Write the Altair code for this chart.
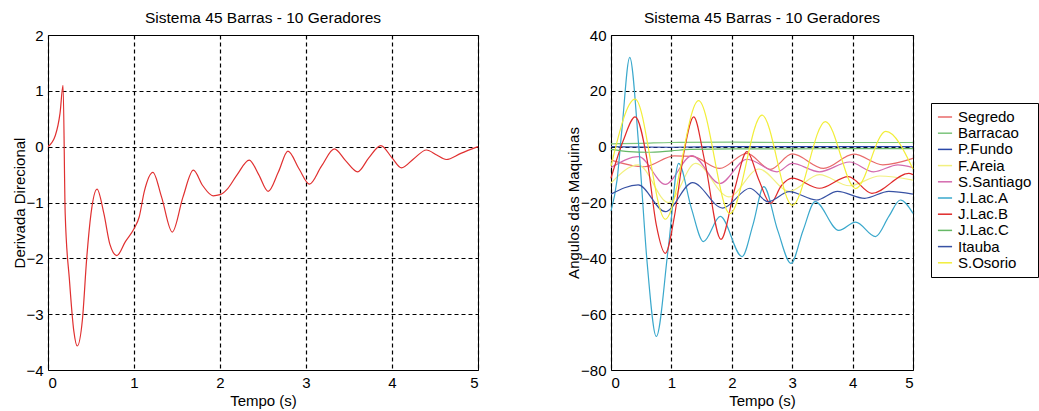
import altair as alt
import pandas as pd

# ---------------- Left panel: Derivada Direcional ----------------
DD_T = [0.0, 0.085, 0.14, 0.175, 0.2, 0.25, 0.3, 0.34, 0.4, 0.45, 0.5, 0.57, 0.65, 0.72, 0.8,
        0.9, 1.0, 1.06, 1.12, 1.22, 1.32, 1.445, 1.57, 1.69, 1.8, 1.92, 2.0, 2.09, 2.2, 2.34,
        2.45, 2.56, 2.68, 2.79, 2.92, 3.04, 3.18, 3.33, 3.46, 3.6, 3.73, 3.87, 4.0, 4.11, 4.25,
        4.4, 4.52, 4.63, 4.8, 5.0]
DD_V = [0.0, 0.2, 0.6, 1.1, -1.2, -2.4, -3.3, -3.57, -3.1, -2.0, -1.2, -0.76, -1.2, -1.75, -1.95,
        -1.7, -1.47, -1.26, -0.8, -0.46, -0.9, -1.53, -0.9, -0.42, -0.7, -0.88, -0.86, -0.75, -0.5, -0.24,
        -0.5, -0.8, -0.45, -0.08, -0.4, -0.67, -0.35, -0.04, -0.25, -0.45, -0.2, 0.02, -0.2, -0.38, -0.22,
        -0.06, -0.15, -0.23, -0.12, 0.0]

# ---------------- Right panel: Angulos das Maquinas ----------------
NAMES = ["Segredo", "Barracao", "P.Fundo", "F.Areia", "S.Santiago",
         "J.Lac.A", "J.Lac.B", "J.Lac.C", "Itauba", "S.Osorio"]
COLORS = ["#e86a6a", "#7cc47c", "#2a48a8", "#f2f080", "#d46aae",
          "#3aa8cc", "#e02a2a", "#66b866", "#3852a4", "#f2ee3a"]

SEGREDO_T = [0.0, 0.55, 1.05, 1.35, 1.8, 2.25, 2.64, 3.0, 3.52, 4.02, 4.5, 5.0]
SEGREDO_V = [-4.8, -7.2, -3.3, -3.5, -7.8, -2.4, -8.1, -2.6, -7.8, -2.7, -6.5, -4.2]

BARRACAO_T = [0.0, 0.5, 1.0, 2.0, 3.0, 4.0, 5.0]
BARRACAO_V = [1.0, 1.2, 1.5, 1.6, 1.5, 1.5, 1.5]

PFUNDO_T = [0.0, 1.0, 2.0, 3.0, 4.0, 5.0]
PFUNDO_V = [0.0, -0.2, 0.0, 0.0, 0.0, 0.0]

FAREIA_T = [0.0, 0.45, 0.95, 1.4, 1.95, 2.45, 2.95, 3.45, 3.95, 4.45, 5.0]
FAREIA_V = [-13.0, -6.5, -20.0, -6.0, -18.0, -8.0, -16.0, -10.0, -14.0, -10.5, -12.0]

SSANTIAGO_T = [0.0, 0.46, 0.9, 1.34, 1.8, 2.25, 2.75, 3.0, 3.45, 3.95, 4.35, 4.75, 5.0]
SSANTIAGO_V = [-7.5, -3.6, -13.5, -3.2, -13.2, -4.5, -9.0, -6.0, -9.0, -5.5, -9.0, -6.5, -7.5]

JLACA_T = [0.0, 0.1, 0.18, 0.31, 0.46, 0.6, 0.75, 0.95, 1.12, 1.33, 1.53, 1.81, 2.17, 2.35,
           2.53, 2.76, 2.98, 3.18, 3.38, 3.77, 4.05, 4.38, 4.6, 4.79, 5.0]
JLACA_V = [-23.0, -12.0, 6.0, 32.0, 0.0, -42.0, -68.0, -36.0, -6.0, -22.0, -34.0, -25.0, -39.4, -28.0,
           -14.3, -30.0, -41.8, -30.0, -19.7, -30.0, -27.0, -32.2, -25.0, -19.1, -23.9]

JLACB_T = [0.0, 0.2, 0.4, 0.6, 0.75, 0.9, 1.05, 1.2, 1.37, 1.55, 1.82, 2.05, 2.25, 2.45, 2.64,
           2.82, 3.0, 3.45, 3.93, 4.32, 4.93, 5.0]
JLACB_V = [-11.3, 2.0, 10.7, -5.0, -28.0, -38.2, -25.0, -3.0, 10.7, -5.0, -33.2, -15.0, -1.8, -12.0, -20.3,
           -14.0, -11.3, -14.9, -10.7, -16.7, -9.6, -10.0]

JLACC_T = [0.0, 0.3, 0.6, 1.0, 1.3, 2.0, 3.0, 4.0, 5.0]
JLACC_V = [-1.0, -1.8, -2.0, -1.5, -1.0, -0.8, -0.8, -0.7, -0.7]

ITAUBA_T = [0.0, 0.45, 0.9, 1.35, 1.85, 2.3, 2.6, 2.95, 3.4, 3.75, 4.2, 4.6, 5.0]
ITAUBA_V = [-17.0, -13.7, -23.3, -12.9, -22.0, -14.9, -19.7, -16.1, -19.1, -16.0, -18.5, -16.0, -17.0]

SOSORIO_T = [0.0, 0.4, 0.9, 1.45, 1.97, 2.5, 3.0, 3.55, 4.05, 4.55, 5.0]
SOSORIO_V = [-7.0, 17.0, -26.0, 16.5, -24.0, 11.3, -21.0, 9.0, -15.0, 5.5, -8.0]

SERIES_T = [SEGREDO_T, BARRACAO_T, PFUNDO_T, FAREIA_T, SSANTIAGO_T,
            JLACA_T, JLACB_T, JLACC_T, ITAUBA_T, SOSORIO_T]
SERIES_V = [SEGREDO_V, BARRACAO_V, PFUNDO_V, FAREIA_V, SSANTIAGO_V,
            JLACA_V, JLACB_V, JLACC_V, ITAUBA_V, SOSORIO_V]

X_TICKS = [0, 1, 2, 3, 4, 5]
Y_TICKS_L = [-4, -3, -2, -1, 0, 1, 2]
Y_TICKS_R = [-80, -60, -40, -20, 0, 20, 40]

TITLE = "Sistema 45 Barras - 10 Geradores"

df_left = pd.DataFrame({"t": DD_T, "v": DD_V})
rows = []
for name, ts, vs in zip(NAMES, SERIES_T, SERIES_V):
    for t, v in zip(ts, vs):
        rows.append({"serie": name, "t": t, "v": v})
df_right = pd.DataFrame(rows)

FONT = "Liberation Sans"

left = alt.Chart(df_left).mark_line(
    color="#e03030", strokeWidth=1.2, interpolate="monotone"
).encode(
    x=alt.X("t:Q", scale=alt.Scale(domain=[0, 5], nice=False),
            axis=alt.Axis(values=X_TICKS, title="Tempo (s)")),
    y=alt.Y("v:Q", scale=alt.Scale(domain=[-4, 2], nice=False),
            axis=alt.Axis(values=Y_TICKS_L, title="Derivada Direcional", titlePadding=-2)),
).properties(width=430, height=335, title=TITLE)

right = alt.Chart(df_right).mark_line(
    strokeWidth=1.2, interpolate="monotone"
).encode(
    x=alt.X("t:Q", scale=alt.Scale(domain=[0, 5], nice=False),
            axis=alt.Axis(values=X_TICKS, title="Tempo (s)")),
    y=alt.Y("v:Q", scale=alt.Scale(domain=[-80, 40], nice=False),
            axis=alt.Axis(values=Y_TICKS_R, title="Angulos das Maquinas", titlePadding=-1)),
    color=alt.Color("serie:N", scale=alt.Scale(domain=NAMES, range=COLORS),
                    legend=alt.Legend(title=None, orient="none", legendX=320, legendY=68,
                                      symbolType="stroke", symbolSize=200, symbolStrokeWidth=1.5,
                                      labelFontSize=15, labelFont=FONT, labelColor="black",
                                      labelOffset=5, rowPadding=0.2, padding=6,
                                      strokeColor="black", fillColor="white", symbolOffset=0)),
).properties(width=302, height=335, title=TITLE)

chart = alt.hconcat(left, right, spacing=133).resolve_legend(color="independent").properties(
    bounds="flush", padding={"left": 12, "top": 10, "right": 0, "bottom": 0}
).configure(
    background="white",
).configure_view(
    stroke="black", strokeWidth=1
).configure_axis(
    grid=True, gridColor="black", gridDash=[4, 3], gridWidth=1.2, gridOpacity=1,
    domain=False, ticks=False,
    labelFont=FONT, labelFontSize=15, labelColor="black", labelPadding=5,
    titleFont=FONT, titleFontSize=15, titleFontWeight="normal", titleColor="black",
).configure_axisX(
    labelPadding=5, titlePadding=3
).configure_title(
    font=FONT, fontSize=15.5, fontWeight="normal", color="black", anchor="middle", offset=1.5
)

chart.save("out.html", embed_options={"renderer": "svg", "actions": False})
